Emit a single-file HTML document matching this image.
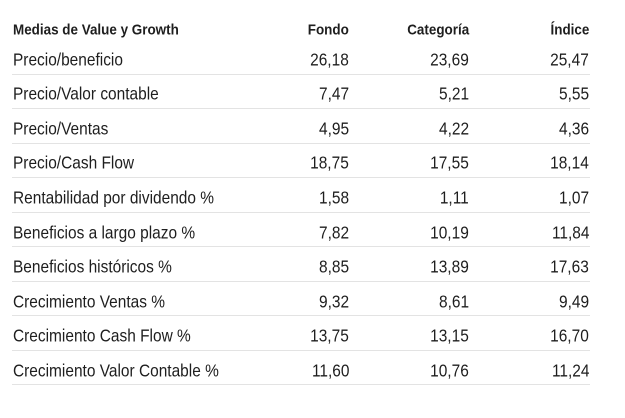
<!DOCTYPE html>
<html><head><meta charset="utf-8"><style>
body{margin:0;width:625px;height:418px;background:#fff;overflow:hidden;font-family:"Liberation Sans Narrow","Liberation Sans",sans-serif;color:#1e1e1e;position:relative}
.r{position:absolute;left:12px;width:578px;height:34.55px;border-bottom:1px solid #e3e3e3;box-sizing:border-box;font-size:17.5px}
.h{position:absolute;left:12px;width:578px;top:17px;height:26px;font-size:15px;font-weight:bold}
span{position:absolute;top:50%;white-space:nowrap}
.r span{transform:translateY(-36%) scaleX(0.883)}
.h span{transform:translateY(-50%) scaleX(0.896)}
.a{left:1px;transform-origin:left center}.b,.c,.d{transform-origin:right center}
.b{right:241px}.c{right:121px}.d{right:1px}
</style></head><body>
<div class="h"><span class="a">Medias de Value y Growth</span><span class="b">Fondo</span><span class="c">Categoría</span><span class="d">Índice</span></div>
<div class="r" style="top:40px"><span class="a">Precio/beneficio</span><span class="b">26,18</span><span class="c">23,69</span><span class="d">25,47</span></div>
<div class="r" style="top:74.55px"><span class="a">Precio/Valor contable</span><span class="b">7,47</span><span class="c">5,21</span><span class="d">5,55</span></div>
<div class="r" style="top:109.1px"><span class="a">Precio/Ventas</span><span class="b">4,95</span><span class="c">4,22</span><span class="d">4,36</span></div>
<div class="r" style="top:143.65px"><span class="a">Precio/Cash Flow</span><span class="b">18,75</span><span class="c">17,55</span><span class="d">18,14</span></div>
<div class="r" style="top:178.2px"><span class="a">Rentabilidad por dividendo %</span><span class="b">1,58</span><span class="c">1,11</span><span class="d">1,07</span></div>
<div class="r" style="top:212.75px"><span class="a">Beneficios a largo plazo %</span><span class="b">7,82</span><span class="c">10,19</span><span class="d">11,84</span></div>
<div class="r" style="top:247.3px"><span class="a">Beneficios históricos %</span><span class="b">8,85</span><span class="c">13,89</span><span class="d">17,63</span></div>
<div class="r" style="top:281.85px"><span class="a">Crecimiento Ventas %</span><span class="b">9,32</span><span class="c">8,61</span><span class="d">9,49</span></div>
<div class="r" style="top:316.4px"><span class="a">Crecimiento Cash Flow %</span><span class="b">13,75</span><span class="c">13,15</span><span class="d">16,70</span></div>
<div class="r" style="top:350.95px"><span class="a">Crecimiento Valor Contable %</span><span class="b">11,60</span><span class="c">10,76</span><span class="d">11,24</span></div>
</body></html>
